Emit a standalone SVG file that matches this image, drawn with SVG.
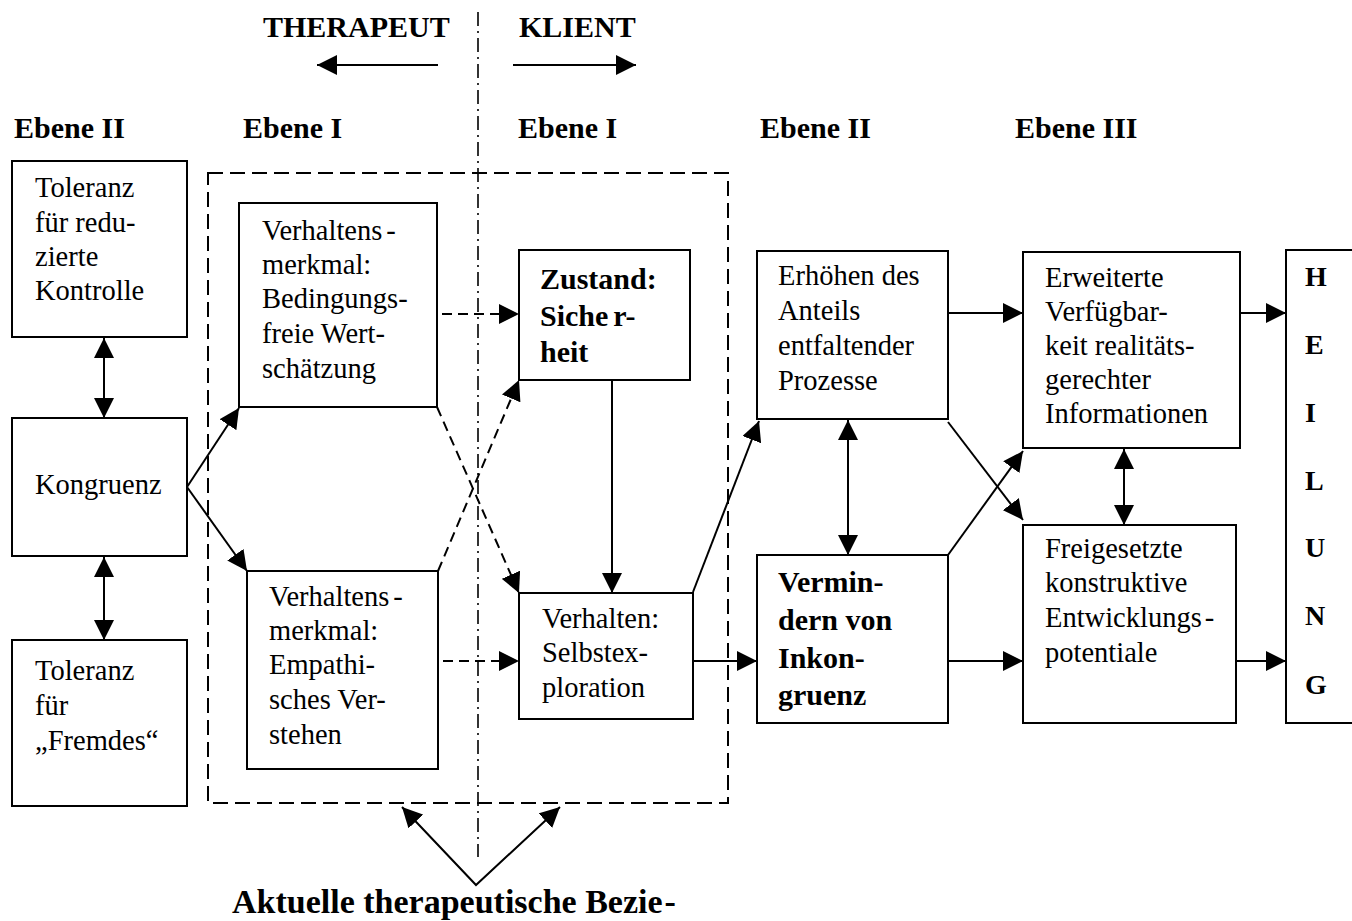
<svg xmlns="http://www.w3.org/2000/svg" width="1352" height="921" viewBox="0 0 1352 921">
<style>
text{font-family:"Liberation Serif","Times New Roman",serif;fill:#000}
.t{font-size:28.5px}
.b{font-size:30px;font-weight:bold}
.hd{font-size:30px;font-weight:bold}
.box{fill:#fff;stroke:#000;stroke-width:2}
.ln{fill:none;stroke:#000;stroke-width:2}
.ds{fill:none;stroke:#000;stroke-width:2;stroke-dasharray:10 6}
.frame{fill:none;stroke:#000;stroke-width:2;stroke-dasharray:15 7}
.dd{fill:none;stroke:#000;stroke-width:1.6;stroke-dasharray:14 5 2 5}
</style>
<defs>
<marker id="ah" viewBox="0 0 20 20" refX="20" refY="10" markerWidth="20" markerHeight="20" markerUnits="userSpaceOnUse" orient="auto-start-reverse">
<path d="M0,0 L20,10 L0,20 z" fill="#000"/>
</marker>
</defs>
<rect width="1352" height="921" fill="#fff"/>

<g id="header">
<text class="hd" x="263" y="37">THERAPEUT</text>
<text class="hd" x="519" y="37">KLIENT</text>
<text class="hd" x="14" y="138">Ebene II</text>
<text class="hd" x="243" y="138">Ebene I</text>
<text class="hd" x="518" y="138">Ebene I</text>
<text class="hd" x="760" y="138">Ebene II</text>
<text class="hd" x="1015" y="138">Ebene III</text>
</g>

<g id="frame">
<rect class="frame" x="208" y="173" width="520" height="630"/>
<line class="dd" x1="478" y1="12" x2="478" y2="857"/>
</g>

<g id="n-toleranz-kontrolle">
<rect class="box" x="12" y="161" width="175" height="176"/>
<text class="t" x="35" y="197">Toleranz</text>
<text class="t" x="35" y="232">für redu-</text>
<text class="t" x="35" y="266">zierte</text>
<text class="t" x="35" y="300">Kontrolle</text>
</g>
<g id="n-kongruenz">
<rect class="box" x="12" y="418" width="175" height="138"/>
<text class="t" x="35" y="494">Kongruenz</text>
</g>
<g id="n-toleranz-fremdes">
<rect class="box" x="12" y="640" width="175" height="166"/>
<text class="t" x="35" y="680">Toleranz</text>
<text class="t" x="35" y="715">für</text>
<text class="t" x="35" y="750">„Fremdes“</text>
</g>

<g id="n-wertschaetzung">
<rect class="box" x="239" y="203" width="198" height="204"/>
<text class="t" x="262" y="240">Verhaltens<tspan dx="4">-</tspan></text>
<text class="t" x="262" y="274">merkmal:</text>
<text class="t" x="262" y="308">Bedingungs-</text>
<text class="t" x="262" y="343">freie Wert-</text>
<text class="t" x="262" y="378">schätzung</text>
</g>
<g id="n-empathie">
<rect class="box" x="247" y="571" width="191" height="198"/>
<text class="t" x="269" y="606">Verhaltens<tspan dx="4">-</tspan></text>
<text class="t" x="269" y="640">merkmal:</text>
<text class="t" x="269" y="674">Empathi-</text>
<text class="t" x="269" y="709">sches Ver-</text>
<text class="t" x="269" y="744">stehen</text>
</g>
<g id="n-sicherheit">
<rect class="box" x="519" y="250" width="171" height="130"/>
<text class="b" x="540" y="289">Zustand:</text>
<text class="b" x="540" y="326">Siche<tspan dx="5">r-</tspan></text>
<text class="b" x="540" y="362">heit</text>
</g>
<g id="n-selbstexploration">
<rect class="box" x="519" y="593" width="174" height="126"/>
<text class="t" x="542" y="628">Verhalten:</text>
<text class="t" x="542" y="662">Selbstex-</text>
<text class="t" x="542" y="697">ploration</text>
</g>

<g id="n-erhoehen">
<rect class="box" x="757" y="251" width="191" height="168"/>
<text class="t" x="778" y="285">Erhöhen des</text>
<text class="t" x="778" y="320">Anteils</text>
<text class="t" x="778" y="355">entfaltender</text>
<text class="t" x="778" y="390">Prozesse</text>
</g>
<g id="n-vermindern">
<rect class="box" x="757" y="555" width="191" height="168"/>
<text class="b" x="778" y="592">Vermin-</text>
<text class="b" x="778" y="630">dern von</text>
<text class="b" x="778" y="668">Inkon-</text>
<text class="b" x="778" y="705">gruenz</text>
</g>
<g id="n-erweiterte">
<rect class="box" x="1023" y="252" width="217" height="196"/>
<text class="t" x="1045" y="287">Erweiterte</text>
<text class="t" x="1045" y="321">Verfügbar-</text>
<text class="t" x="1045" y="355">keit realitäts-</text>
<text class="t" x="1045" y="389">gerechter</text>
<text class="t" x="1045" y="423">Informationen</text>
</g>
<g id="n-freigesetzte">
<rect class="box" x="1023" y="525" width="213" height="198"/>
<text class="t" x="1045" y="558">Freigesetzte</text>
<text class="t" x="1045" y="592">konstruktive</text>
<text class="t" x="1045" y="627">Entwicklungs<tspan dx="3">-</tspan></text>
<text class="t" x="1045" y="662">potentiale</text>
</g>
<g id="n-heilung">
<rect class="box" x="1286" y="250" width="80" height="473"/>
<text class="b" x="1305" y="286" style="font-size:28px">H</text>
<text class="b" x="1305" y="354" style="font-size:28px">E</text>
<text class="b" x="1305" y="422" style="font-size:28px">I</text>
<text class="b" x="1305" y="490" style="font-size:28px">L</text>
<text class="b" x="1305" y="557" style="font-size:28px">U</text>
<text class="b" x="1305" y="625" style="font-size:28px">N</text>
<text class="b" x="1305" y="694" style="font-size:28px">G</text>
</g>

<g id="connectors">
<line class="ln" x1="438" y1="65" x2="317" y2="65" marker-end="url(#ah)"/>
<line class="ln" x1="513" y1="65" x2="636" y2="65" marker-end="url(#ah)"/>
<line class="ln" x1="104" y1="338" x2="104" y2="418" marker-start="url(#ah)" marker-end="url(#ah)"/>
<line class="ln" x1="104" y1="557" x2="104" y2="640" marker-start="url(#ah)" marker-end="url(#ah)"/>
<line class="ln" x1="187" y1="487" x2="239" y2="408" marker-end="url(#ah)"/>
<line class="ln" x1="187" y1="487" x2="247" y2="571" marker-end="url(#ah)"/>
<line class="ds" x1="442" y1="314" x2="519" y2="314" marker-end="url(#ah)"/>
<line class="ds" x1="443" y1="661" x2="519" y2="661" marker-end="url(#ah)"/>
<line class="ds" x1="437" y1="407" x2="519" y2="593" marker-end="url(#ah)"/>
<line class="ds" x1="438" y1="571" x2="519" y2="380" marker-end="url(#ah)"/>
<line class="ln" x1="612" y1="380" x2="612" y2="593" marker-end="url(#ah)"/>
<line class="ln" x1="693" y1="592" x2="759" y2="421" marker-end="url(#ah)"/>
<line class="ln" x1="693" y1="661" x2="757" y2="661" marker-end="url(#ah)"/>
<line class="ln" x1="848" y1="420" x2="848" y2="555" marker-start="url(#ah)" marker-end="url(#ah)"/>
<line class="ln" x1="948" y1="313" x2="1023" y2="313" marker-end="url(#ah)"/>
<line class="ln" x1="948" y1="422" x2="1023" y2="520" marker-end="url(#ah)"/>
<line class="ln" x1="948" y1="555" x2="1023" y2="451" marker-end="url(#ah)"/>
<line class="ln" x1="948" y1="661" x2="1023" y2="661" marker-end="url(#ah)"/>
<line class="ln" x1="1124" y1="449" x2="1124" y2="525" marker-start="url(#ah)" marker-end="url(#ah)"/>
<line class="ln" x1="1240" y1="313" x2="1286" y2="313" marker-end="url(#ah)"/>
<line class="ln" x1="1236" y1="661" x2="1286" y2="661" marker-end="url(#ah)"/>
<polyline class="ln" points="402,807 476,885 560,807" marker-start="url(#ah)" marker-end="url(#ah)"/>
</g>

<g id="caption">
<text x="232" y="913" style="font-size:34px;font-weight:bold">Aktuelle therapeutische Bezie<tspan dx="2">-</tspan></text>
</g>
</svg>
